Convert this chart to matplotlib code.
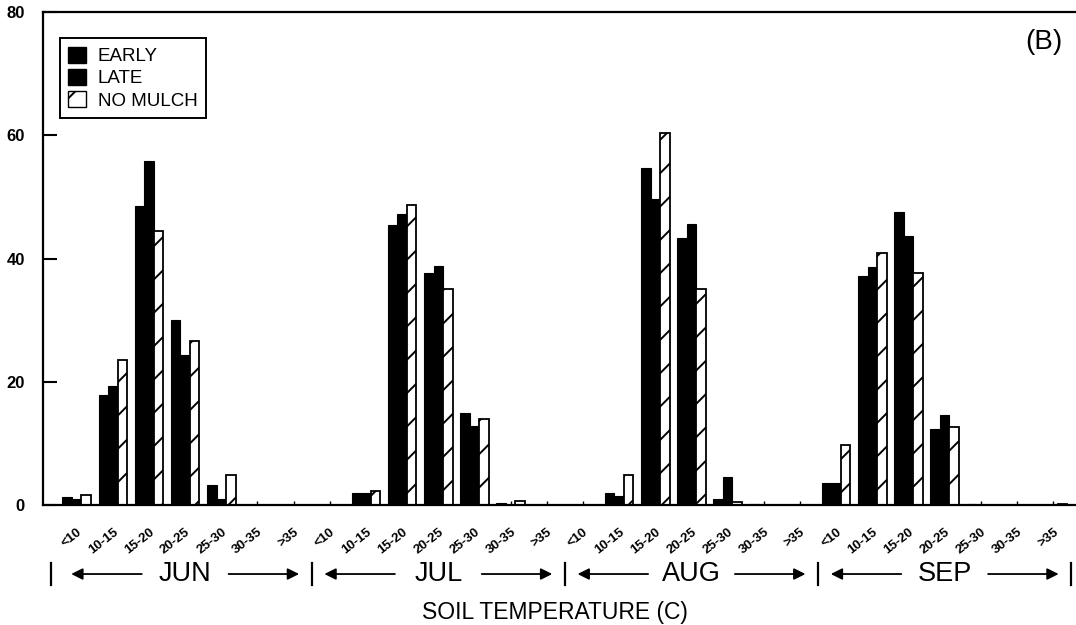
import numpy as np
import matplotlib
matplotlib.use('Agg')
import matplotlib.pyplot as plt
from matplotlib.patches import Patch

# ─── DATA ───────────────────────────────────────────────────────
MONTHS = ["JUN", "JUL", "AUG", "SEP"]
TEMP_BINS = ["<10", "10-15", "15-20", "20-25", "25-30", "30-35", ">35"]

# percent of time in each soil temperature class, per month
early_jun = [1.3, 17.9, 48.6, 30.1, 3.3, 0.0, 0.0]
early_jul = [0.0, 2.0, 45.4, 37.7, 14.9, 0.3, 0.0]
early_aug = [0.0, 2.0, 54.7, 43.4, 0.9, 0.2, 0.0]
early_sep = [3.5, 37.1, 47.6, 12.3, 0.2, 0.0, 0.0]

late_jun = [1.0, 19.3, 55.9, 24.4, 0.9, 0.0, 0.0]
late_jul = [0.0, 2.0, 47.2, 38.8, 12.8, 0.0, 0.0]
late_aug = [0.0, 1.5, 49.6, 45.6, 4.6, 0.0, 0.0]
late_sep = [3.5, 38.6, 43.7, 14.6, 0.0, 0.0, 0.0]

nomulch_jun = [1.7, 23.6, 44.4, 26.6, 4.8, 0.0, 0.0]
nomulch_jul = [0.0, 2.3, 48.7, 35.1, 14.0, 0.7, 0.0]
nomulch_aug = [0.0, 4.9, 60.3, 35.0, 0.5, 0.0, 0.0]
nomulch_sep = [9.7, 40.9, 37.6, 12.6, 0.0, 0.0, 0.2]

Y_TICKS = [0, 20, 40, 60, 80]

# ─── BUILD SERIES ───────────────────────────────────────────────
early = np.array(early_jun + early_jul + early_aug + early_sep)
late = np.array(late_jun + late_jul + late_aug + late_sep)
nomulch = np.array(nomulch_jun + nomulch_jul + nomulch_aug + nomulch_sep)
labels = TEMP_BINS * len(MONTHS)
n_bins = len(TEMP_BINS)
x = np.arange(len(labels))
width = 0.262

plt.rcParams['font.family'] = ['Liberation Sans', 'DejaVu Sans']
plt.rcParams['hatch.linewidth'] = 1.4

fig = plt.figure(figsize=(10.76, 6.25), dpi=100)
ax = fig.add_axes([43 / 1076, 1 - 505 / 625, 1 - 43 / 1076, (505 - 12) / 625])

ax.bar(x - width, early, width, color='black', edgecolor='black', linewidth=0.8, label='EARLY')
ax.bar(x, late, width, color='black', edgecolor='black', linewidth=0.8, label='LATE')
ax.bar(x + width, nomulch, width, color='white', edgecolor='black', linewidth=1.3,
       hatch='/', label='NO MULCH')

# ─── AXES ───────────────────────────────────────────────────────
ax.set_xlim(-0.93, 27.63)
ax.set_ylim(0, 80)
ax.set_yticks(Y_TICKS)
ax.set_yticklabels([str(v) for v in Y_TICKS], fontsize=12, fontweight='bold')
ax.tick_params(axis='y', direction='in', length=10, width=1.5, pad=13)
ax.set_xticks(x)
ax.set_xticklabels(labels, rotation=38, ha='right', rotation_mode='anchor',
                   fontsize=9.5, fontweight='bold')
ax.tick_params(axis='x', direction='in', length=3, width=1, pad=15)
ax.spines['right'].set_visible(False)
for side in ['left', 'top', 'bottom']:
    ax.spines[side].set_linewidth(1.6)

# ─── MONTH BRACKETS UNDER THE AXIS ──────────────────────────────
trans = ax.get_xaxis_transform()
y_month = -0.14
for i, m in enumerate(MONTHS):
    c = i * n_bins + 3
    ax.text(c, y_month, m, transform=trans, ha='center', va='center', fontsize=19.5)
    for side in (-1, 1):
        ax.annotate('', xy=(c + side * 3.15, y_month), xytext=(c + side * 1.2, y_month),
                    xycoords=trans, textcoords=trans, annotation_clip=False,
                    arrowprops=dict(arrowstyle='-|>', color='black', lw=1.3,
                                    mutation_scale=17, shrinkA=0, shrinkB=0))
seps = [-0.71] + [i * n_bins - 0.5 for i in range(1, len(MONTHS))] + [27.5]
for s in seps:
    ax.plot([s, s], [y_month - 0.022, y_month + 0.022], transform=trans,
            color='black', lw=1.6, clip_on=False)

fig.text(555 / 1076, 1 - 612 / 625, 'SOIL TEMPERATURE (C)',
         ha='center', va='center', fontsize=16.5)

# ─── PANEL LETTER + LEGEND ──────────────────────────────────────
fig.text(1044 / 1076, 1 - 42 / 625, '(B)', ha='center', va='center', fontsize=20)

handles = [Patch(facecolor='black', edgecolor='black', label='EARLY'),
           Patch(facecolor='black', edgecolor='black', label='LATE'),
           Patch(facecolor='white', edgecolor='black', hatch='/', label='NO MULCH')]
leg = ax.legend(handles=handles, loc='upper left', bbox_to_anchor=(0.0165, 0.947),
                borderaxespad=0, fancybox=False, edgecolor='black', framealpha=1,
                fontsize=13.5, handlelength=0.95, handleheight=0.95, handletextpad=0.6,
                labelspacing=0.2, borderpad=0.45)
leg.get_frame().set_linewidth(1.4)

fig.savefig('out.png', dpi=100)
